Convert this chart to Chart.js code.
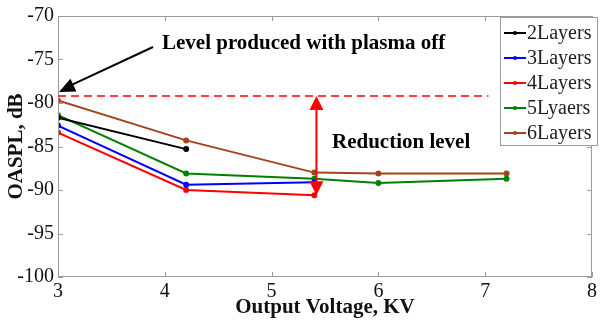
<!DOCTYPE html>
<html>
<head>
<meta charset="utf-8">
<script src="https://cdn.jsdelivr.net/npm/chart.js@4/dist/chart.umd.min.js"></script>
<style>
  html, body { margin: 0; padding: 0; background: #fff; }
  #wrap { width: 600px; height: 320px; }
</style>
</head>
<body>
<div id="wrap"><canvas id="grafico"></canvas></div>
<script>
// datos
const voltage = [3, 4.2, 5.4, 6, 7.2];
const layers2 = [-81.7, -85.3];
const layers3 = [-82.6, -89.4, -89.1];
const layers4 = [-83.4, -90.0, -90.6];
const layers5 = [-81.4, -88.1, -88.7, -89.2, -88.7];
const layers6 = [-79.7, -84.3, -88.0, -88.1, -88.1];
const seriesNames = ['2Layers', '3Layers', '4Layers', '5Lyaers', '6Layers'];
const seriesColors = ['#000000', '#0000ff', '#ff0000', '#008000', '#a3441c'];
const xTicks = [3, 4, 5, 6, 7, 8];
const yTicks = [-100, -95, -90, -85, -80, -75, -70];

// anotaciones
const plasmaOffLevel = -79.2;
const plasmaOffEndX = 7.03;
const reductionX = 5.42;
const reductionBottom = -90.6;

const serif = "'Liberation Serif', 'Times New Roman', serif";

function toPoints(ys) {
  return ys.map((y, i) => ({ x: voltage[i], y: y }));
}

const allSeries = [layers2, layers3, layers4, layers5, layers6];

const datasets = allSeries.map((ys, i) => ({
  label: seriesNames[i],
  data: toPoints(ys),
  borderColor: seriesColors[i],
  backgroundColor: seriesColors[i],
  borderWidth: 2,
  pointRadius: 2,
  pointHoverRadius: 2,
  showLine: true,
  tension: 0
}));

function arrowHead(ctx, x1, y1, x2, y2, size, width) {
  const ang = Math.atan2(y2 - y1, x2 - x1);
  ctx.beginPath();
  ctx.moveTo(x2, y2);
  ctx.lineTo(x2 - size * Math.cos(ang) + width * Math.sin(ang), y2 - size * Math.sin(ang) - width * Math.cos(ang));
  ctx.lineTo(x2 - size * Math.cos(ang) - width * Math.sin(ang), y2 - size * Math.sin(ang) + width * Math.cos(ang));
  ctx.closePath();
  ctx.fill();
}

const extras = {
  id: 'extras',
  afterDatasetsDraw(chart) {
    const ctx = chart.ctx;
    const xs = chart.scales.x, ys = chart.scales.y;
    const a = chart.chartArea;
    ctx.save();

    // caja y ticks hacia adentro
    ctx.strokeStyle = '#9a9a9a';
    ctx.lineWidth = 1;
    ctx.strokeRect(a.left + 0.5, a.top + 0.5, a.right - a.left - 1, a.bottom - a.top - 1);
    ctx.beginPath();
    xTicks.forEach(v => {
      const px = Math.round(xs.getPixelForValue(v)) + 0.5;
      ctx.moveTo(px, a.bottom); ctx.lineTo(px, a.bottom - 5);
      ctx.moveTo(px, a.top); ctx.lineTo(px, a.top + 5);
    });
    yTicks.forEach(v => {
      const py = Math.round(ys.getPixelForValue(v)) + 0.5;
      ctx.moveTo(a.left, py); ctx.lineTo(a.left + 5, py);
      ctx.moveTo(a.right, py); ctx.lineTo(a.right - 5, py);
    });
    ctx.stroke();

    // linea de referencia (plasma apagado)
    const yOff = ys.getPixelForValue(plasmaOffLevel);
    ctx.strokeStyle = '#ff0000';
    ctx.lineWidth = 1.5;
    ctx.setLineDash([8, 5]);
    ctx.beginPath();
    ctx.moveTo(xs.getPixelForValue(3), yOff);
    ctx.lineTo(xs.getPixelForValue(plasmaOffEndX), yOff);
    ctx.stroke();
    ctx.setLineDash([]);

    // flecha de reduccion
    const rx = xs.getPixelForValue(reductionX);
    const yBot = ys.getPixelForValue(reductionBottom);
    ctx.lineWidth = 2;
    ctx.fillStyle = '#ff0000';
    ctx.beginPath();
    ctx.moveTo(rx, yOff + 12); ctx.lineTo(rx, yBot - 12);
    ctx.stroke();
    arrowHead(ctx, rx, yBot - 20, rx, yOff, 14, 7);
    arrowHead(ctx, rx, yOff + 20, rx, yBot, 14, 7);

    // flecha negra
    ctx.strokeStyle = '#000';
    ctx.fillStyle = '#000';
    ctx.lineWidth = 2;
    const tipX = xs.getPixelForValue(3) + 1, tipY = yOff - 4;
    ctx.beginPath();
    ctx.moveTo(153, 47); ctx.lineTo(tipX + 10, tipY - 6);
    ctx.stroke();
    arrowHead(ctx, 153, 47, tipX, tipY, 16, 7);

    // textos
    ctx.font = 'bold 21px ' + serif;
    ctx.textBaseline = 'middle';
    ctx.textAlign = 'left';
    ctx.fillText('Level produced with plasma off', 162, 44);
    ctx.fillText('Reduction level', 332, 143);

    // leyenda
    const lx = 500, ly = 17, lw = 97, lh = 128;
    ctx.fillStyle = '#fff';
    ctx.fillRect(lx, ly, lw, lh);
    ctx.strokeStyle = '#9a9a9a';
    ctx.lineWidth = 1;
    ctx.strokeRect(lx + 0.5, ly + 0.5, lw, lh);
    ctx.font = '20px ' + serif;
    chart.data.datasets.forEach((ds, i) => {
      const yy = ly + 16 + i * 25;
      ctx.strokeStyle = ds.borderColor;
      ctx.fillStyle = ds.borderColor;
      ctx.lineWidth = 2;
      ctx.beginPath();
      ctx.moveTo(lx + 4, yy); ctx.lineTo(lx + 26, yy);
      ctx.stroke();
      ctx.beginPath();
      ctx.arc(lx + 15, yy, 2, 0, Math.PI * 2);
      ctx.fill();
      ctx.fillStyle = '#222';
      ctx.fillText(ds.label, lx + 27, yy + 1);
    });

    ctx.restore();
  }
};

const ctxGrafico = document.getElementById('grafico');

new Chart(ctxGrafico, {
  type: 'scatter',
  data: { datasets: datasets },
  options: {
    responsive: true,
    maintainAspectRatio: false,
    animation: false,
    layout: { padding: { top: 15, right: 3, left: 0, bottom: 0 } },
    plugins: {
      legend: { display: false },
      tooltip: { enabled: false }
    },
    scales: {
      x: {
        type: 'linear',
        min: 3,
        max: 8,
        afterBuildTicks: s => { s.ticks = xTicks.map(v => ({ value: v })); },
        afterFit: s => { s.height = 43; },
        grid: { display: false, drawTicks: false },
        border: { display: false },
        ticks: {
          color: '#111',
          font: { family: serif, size: 20 },
          padding: 3,
          maxRotation: 0
        },
        title: {
          display: true,
          text: 'Output Voltage, KV',
          color: '#111',
          font: { family: serif, size: 21, weight: 'bold' },
          padding: { top: -9, bottom: 0 }
        }
      },
      y: {
        min: -100,
        max: -70,
        afterBuildTicks: s => { s.ticks = yTicks.map(v => ({ value: v })); },
        afterFit: s => { s.width = 58; },
        grid: { display: false, drawTicks: false },
        border: { display: false },
        ticks: {
          color: '#111',
          font: { family: serif, size: 20 },
          padding: 4
        },
        title: {
          display: true,
          text: 'OASPL, dB',
          color: '#111',
          font: { family: serif, size: 21, weight: 'bold' },
          padding: { top: 4, bottom: -10 }
        }
      }
    }
  },
  plugins: [extras]
});
</script>
</body>
</html>
